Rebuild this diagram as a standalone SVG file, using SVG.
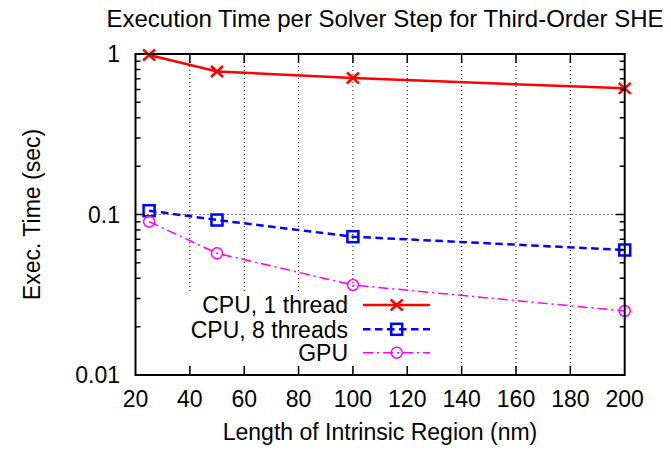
<svg xmlns="http://www.w3.org/2000/svg" width="671" height="452" viewBox="0 0 671 452">
<defs>
<style>
text{font-family:"Liberation Sans",Arial,sans-serif;font-size:23px;fill:#000}
.grid{stroke:#000;stroke-width:1;stroke-dasharray:1,3;fill:none}
.tick{stroke:#000;stroke-width:1.5;fill:none}
.frame{stroke:#000;stroke-width:2;fill:none}
.red{stroke:#ff0000;stroke-width:2.5;fill:none}
.blue{stroke:#0000ff;stroke-width:2.5;fill:none;stroke-dasharray:7.5,4.5}
.pink{stroke:#ff00ff;stroke-width:1.5;fill:none;stroke-dasharray:10,4,2,4}
.mx{stroke:#ff0000;stroke-width:2.5;fill:none}
.ms{stroke:#0000ff;stroke-width:2.5;fill:none}
.mc{stroke:#ff00ff;stroke-width:1.5;fill:none}
</style>
<path id="xm" d="M-6,-5.5L6,5.5M-6,5.5L6,-5.5"/>
</defs>
<rect width="671" height="452" fill="#fff"/>
<g id="title"><text x="385" y="27" text-anchor="middle" style="font-size:24px">Execution Time per Solver Step for Third-Order SHE</text></g>
<g id="grid">
<path class="grid" d="M189.86,54V375M244.21,54V375M298.57,54V375M352.92,54V375M407.28,54V375M461.64,54V375M515.99,54V375M570.35,54V375M135.5,214.5H624.7"/>
</g>
<g id="connectors">
<polyline class="red" points="149.1,55 217,71.5 352.9,78 624.7,88.3"/>
<polyline class="blue" points="149.1,210.7 217,220 352.9,236.7 624.7,250"/>
<polyline class="pink" points="149.1,221.7 217,253.3 352.9,285 624.7,311"/>
</g>
<g id="cpu1-markers">
<use href="#xm" class="mx" x="149.1" y="55"/>
<use href="#xm" class="mx" x="217" y="71.5"/>
<use href="#xm" class="mx" x="352.9" y="78"/>
<use href="#xm" class="mx" x="624.7" y="88.3"/>
</g>
<g id="cpu8-markers">
<rect class="ms" x="143.6" y="205.2" width="11" height="11"/>
<rect class="ms" x="211.5" y="214.5" width="11" height="11"/>
<rect class="ms" x="347.4" y="231.2" width="11" height="11"/>
<rect class="ms" x="619.2" y="244.5" width="11" height="11"/>
</g>
<g id="gpu-markers">
<circle class="mc" cx="149.1" cy="221.7" r="5.5"/>
<circle class="mc" cx="217" cy="253.3" r="5.5"/>
<circle class="mc" cx="352.9" cy="285" r="5.5"/>
<circle class="mc" cx="624.7" cy="311" r="5.5"/>
</g>
<g id="legend">
<rect x="180" y="294" width="257" height="72" fill="#fff"/>
<text x="348" y="313" text-anchor="end">CPU, 1 thread</text>
<line class="red" x1="363" y1="305" x2="430" y2="305"/>
<use href="#xm" class="mx" x="396.7" y="305"/>
<text x="348" y="337.5" text-anchor="end">CPU, 8 threads</text>
<line class="blue" x1="363" y1="329.3" x2="430" y2="329.3"/>
<rect class="ms" x="391.2" y="323.8" width="11" height="11"/>
<text x="348" y="361" text-anchor="end">GPU</text>
<line class="pink" x1="363" y1="352.7" x2="430" y2="352.7"/>
<circle class="mc" cx="396.7" cy="352.7" r="5.5"/>
</g>
<g id="axes">
<path class="tick" d="M189.86,375v-9M244.21,375v-9M298.57,375v-9M352.92,375v-9M407.28,375v-9M461.64,375v-9M515.99,375v-9M570.35,375v-9
M189.86,54v9M244.21,54v9M298.57,54v9M352.92,54v9M407.28,54v9M461.64,54v9M515.99,54v9M570.35,54v9
M135.5,214.5h9M624.7,214.5h-9
M135.5,166.18h5M135.5,137.92h5M135.5,117.87h5M135.5,102.32h5M135.5,89.61h5M135.5,78.86h5M135.5,69.55h5M135.5,61.34h5
M135.5,326.68h5M135.5,298.42h5M135.5,278.37h5M135.5,262.82h5M135.5,250.11h5M135.5,239.36h5M135.5,230.05h5M135.5,221.84h5
M624.7,166.18h-5M624.7,137.92h-5M624.7,117.87h-5M624.7,102.32h-5M624.7,89.61h-5M624.7,78.86h-5M624.7,69.55h-5M624.7,61.34h-5
M624.7,326.68h-5M624.7,298.42h-5M624.7,278.37h-5M624.7,262.82h-5M624.7,250.11h-5M624.7,239.36h-5M624.7,230.05h-5M624.7,221.84h-5"/>
<rect class="frame" x="135.5" y="54" width="489.2" height="321"/>
<g text-anchor="end">
<text x="120" y="62">1</text>
<text x="120" y="222.5">0.1</text>
<text x="120" y="383">0.01</text>
</g>
<g text-anchor="middle">
<text x="135.5" y="407">20</text>
<text x="189.86" y="407">40</text>
<text x="244.21" y="407">60</text>
<text x="298.57" y="407">80</text>
<text x="352.92" y="407">100</text>
<text x="407.28" y="407">120</text>
<text x="461.64" y="407">140</text>
<text x="515.99" y="407">160</text>
<text x="570.35" y="407">180</text>
<text x="624.7" y="407">200</text>
</g>
<text x="380" y="440" text-anchor="middle">Length of Intrinsic Region (nm)</text>
<text transform="translate(40,214.5) rotate(-90)" text-anchor="middle">Exec. Time (sec)</text>
</g>
</svg>
